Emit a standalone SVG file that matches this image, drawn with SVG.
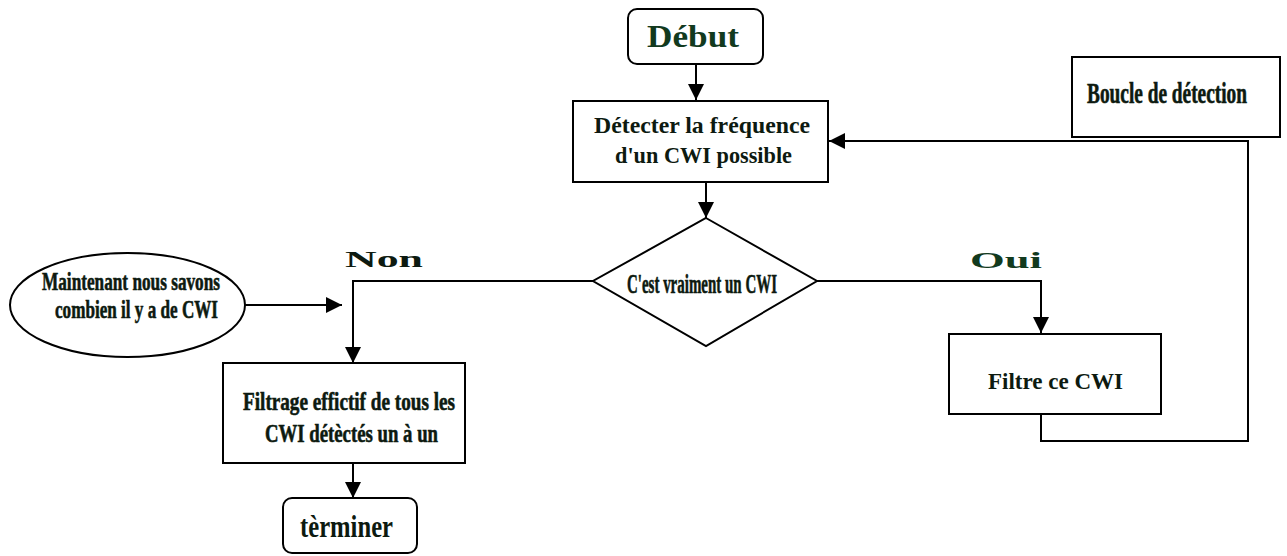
<svg xmlns="http://www.w3.org/2000/svg" width="1287" height="556" viewBox="0 0 1287 556">
<style>
.box{fill:#fff;stroke:#000;stroke-width:2}
.ln{fill:none;stroke:#000;stroke-width:2}
.t{font-family:"Liberation Serif",serif;font-weight:bold;fill:#0d1a10;text-anchor:start}
.c{stroke:#0d1a10;stroke-width:0.6}
.g{fill:#123a1e}
</style>
<defs>
<marker id="ah" viewBox="0 0 10 10" refX="10" refY="5" markerWidth="16" markerHeight="16" markerUnits="userSpaceOnUse" orient="auto">
<path d="M0,0 L10,5 L0,10 z" fill="#000"/>
</marker>
</defs>
<rect width="1287" height="556" fill="#fff"/>
<g id="connectors">
<line class="ln" x1="696" y1="64" x2="696" y2="100" marker-end="url(#ah)"/>
<line class="ln" x1="706" y1="182" x2="706" y2="218" marker-end="url(#ah)"/>
<polyline class="ln" points="817,281 1041,281 1041,333" marker-end="url(#ah)"/>
<polyline class="ln" points="1041,414 1041,441 1248,441 1248,141 829,141" marker-end="url(#ah)"/>
<polyline class="ln" points="593,281 353,281 353,363" marker-end="url(#ah)"/>
<line class="ln" x1="245" y1="305" x2="342" y2="305" marker-end="url(#ah)"/>
<line class="ln" x1="353" y1="463" x2="353" y2="498" marker-end="url(#ah)"/>
<text class="t" x="345" y="267" font-size="24" textLength="78" lengthAdjust="spacingAndGlyphs">Non</text>
<text class="t g" x="970" y="268" font-size="24" textLength="72" lengthAdjust="spacingAndGlyphs">Oui</text>
</g>
<g id="debut">
<rect class="box" x="628" y="9" width="135" height="55" rx="9"/>
<text class="t g" x="647" y="47" font-size="32" textLength="92" lengthAdjust="spacingAndGlyphs">Début</text>
</g>
<g id="detecter">
<rect class="box" x="573" y="101" width="255" height="81"/>
<text class="t" x="594" y="133" font-size="24" textLength="216" lengthAdjust="spacingAndGlyphs">Détecter la fréquence</text>
<text class="t" x="615" y="163" font-size="24" textLength="177" lengthAdjust="spacingAndGlyphs">d'un CWI possible</text>
</g>
<g id="boucle">
<rect class="box" x="1072" y="57" width="208" height="80"/>
<text class="t c" x="1087" y="103" font-size="29" textLength="160" lengthAdjust="spacingAndGlyphs">Boucle de détection</text>
</g>
<g id="decision">
<polygon class="box" points="706,218 817,281 706,346 593,281"/>
<text class="t c" x="627" y="293" font-size="28" textLength="150" lengthAdjust="spacingAndGlyphs">C'est vraiment un CWI</text>
</g>
<g id="filtre">
<rect class="box" x="949" y="334" width="212" height="80"/>
<text class="t" x="988" y="389" font-size="24" textLength="135" lengthAdjust="spacingAndGlyphs">Filtre ce CWI</text>
</g>
<g id="maintenant">
<ellipse class="box" cx="127.5" cy="305" rx="117.5" ry="52"/>
<text class="t c" x="42" y="290" font-size="25" textLength="178" lengthAdjust="spacingAndGlyphs">Maintenant nous savons</text>
<text class="t c" x="55" y="318" font-size="25" textLength="163" lengthAdjust="spacingAndGlyphs">combien il y a de CWI</text>
</g>
<g id="filtrage">
<rect class="box" x="223" y="363" width="242" height="100"/>
<text class="t c" x="243" y="410" font-size="26" textLength="212" lengthAdjust="spacingAndGlyphs">Filtrage effictif de tous les</text>
<text class="t c" x="265" y="442" font-size="26" textLength="173" lengthAdjust="spacingAndGlyphs">CWI détèctés un à un</text>
</g>
<g id="terminer">
<rect class="box" x="283" y="498" width="134" height="55" rx="9"/>
<text class="t" x="300" y="537" font-size="31" textLength="93" lengthAdjust="spacingAndGlyphs">tèrminer</text>
</g>
</svg>
